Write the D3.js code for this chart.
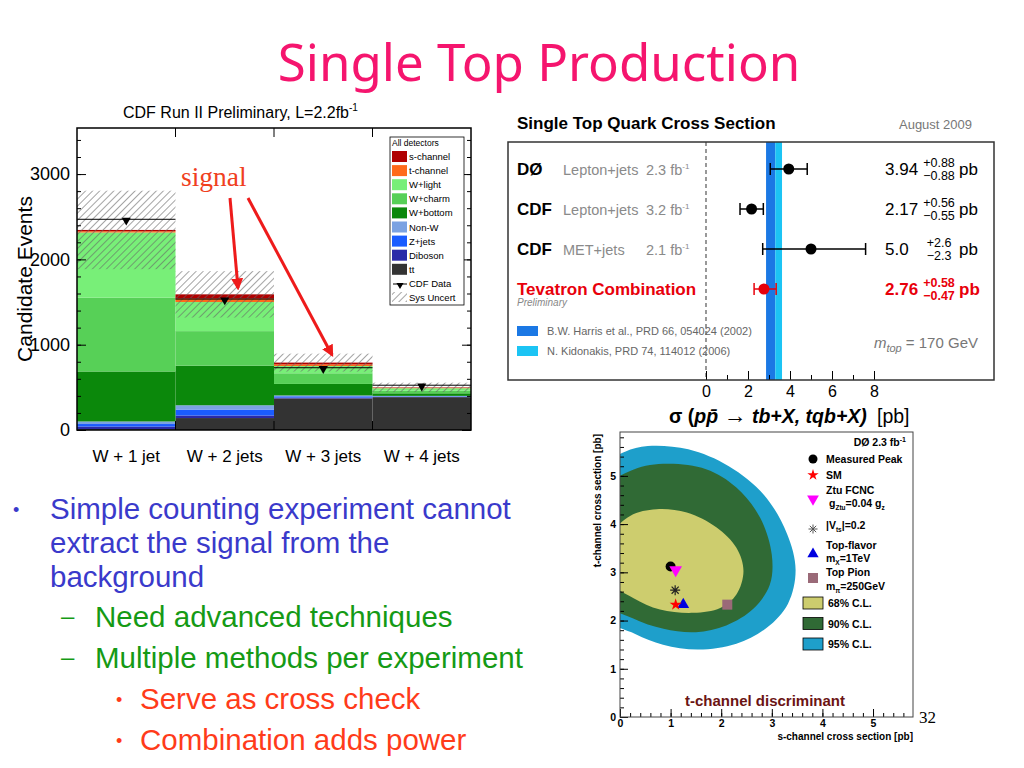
<!DOCTYPE html>
<html>
<head>
<meta charset="utf-8">
<script src="https://cdn.jsdelivr.net/npm/d3@7"></script>
<style>
  body { margin: 0; background: #fff; }
  text { font-family: "Liberation Sans", Arial, sans-serif; }
</style>
</head>
<body>
<div id="slide"></div>
<script>
// Step 1: the numbers
//=================================

// left plot: stacked event counts per jet bin
var jetBins = ["W + 1 jet", "W + 2 jets", "W + 3 jets", "W + 4 jets"];
var processNames = ["tt", "Diboson", "Z+jets", "Non-W", "W+bottom", "W+charm", "W+light", "t-channel", "s-channel"];
var ttEvents      = [10, 140, 370, 385];
var dibosonEvents = [30, 30, 10, 5];
var zjetsEvents   = [30, 70, 15, 5];
var nonWEvents    = [30, 50, 10, 5];
var wbottomEvents = [586, 464, 135, 30];
var wcharmEvents  = [865, 405, 125, 30];
var wlightEvents  = [764, 341, 85, 30];
var tchanEvents   = [15, 40, 20, 5];
var schanEvents   = [15, 50, 20, 5];
var cdfData       = [2470, 1535, 730, 525];
var sysUncert     = [460, 272, 105, 55];
var countTicks    = [0, 1000, 2000, 3000];

// upper right plot: cross section measurements
var xsecExperiment = ["DØ", "CDF", "CDF", "Tevatron Combination"];
var xsecChannel    = ["Lepton+jets", "Lepton+jets", "MET+jets", ""];
var xsecLumi       = ["2.3", "3.2", "2.1", ""];
var xsecCentral    = [3.94, 2.17, 5.0, 2.76];
var xsecErrUp      = [0.88, 0.56, 2.6, 0.58];
var xsecErrDown    = [0.88, 0.55, 2.3, 0.47];
var xsecText       = ["3.94", "2.17", "5.0", "2.76"];
var xsecUpText     = ["+0.88", "+0.56", "+2.6", "+0.58"];
var xsecDownText   = ["\u22120.88", "\u22120.55", "\u22122.3", "\u22120.47"];
var harrisBand     = [2.86, 3.3];
var kidonakisBand  = [3.3, 3.62];
var xsecTicks      = [0, 2, 4, 6, 8];

// lower right plot: confidence contours in (s-channel, t-channel) plane
var cl95 = [[-0.3, 5.2], [0.1, 5.5], [0.55, 5.62], [1.35, 5.55], [2.15, 5.2], [2.85, 4.6], [3.3, 3.8],
            [3.47, 3.05], [3.32, 2.35], [2.9, 1.85], [2.3, 1.52], [1.55, 1.4], [0.85, 1.5], [0.3, 1.72], [-0.3, 2.1]];
var cl90 = [[-0.3, 4.7], [0.2, 5.1], [0.85, 5.25], [1.7, 5.14], [2.3, 4.76], [2.77, 4.13], [3.0, 3.36],
            [2.96, 2.74], [2.64, 2.25], [2.1, 1.9], [1.5, 1.76], [0.86, 1.83], [0.25, 2.05], [-0.3, 2.4]];
var cl68 = [[-0.3, 3.6], [0.2, 4.17], [0.72, 4.31], [1.32, 4.24], [1.91, 3.93], [2.3, 3.51], [2.44, 3.03],
            [2.3, 2.54], [1.98, 2.26], [1.45, 2.16], [0.79, 2.23], [0.26, 2.47], [-0.3, 2.9]];
var measuredPeak = [1.0, 3.12];
var smPoint      = [1.1, 2.33];
var ztuPoint     = [1.1, 3.05];
var vtsPoint     = [1.09, 2.63];
var flavorPoint  = [1.25, 2.33];
var pionPoint    = [2.12, 2.33];
var sTicks = [0, 1, 2, 3, 4, 5];
var tTicks = [0, 1, 2, 3, 4, 5];

// bullet text
var bulletText  = ["Simple counting experiment cannot", "extract the signal from the", "background",
                   "Need advanced techniques", "Multiple methods per experiment",
                   "Serve as cross check", "Combination adds power"];
var bulletLevel = [1, 1, 1, 2, 2, 3, 3];
var bulletFirst = [true, false, false, true, true, true, true];


// Step 2: the svg
//=================================
var svg = d3.select("#slide").append("svg")
  .attr("width", 1024)
  .attr("height", 768);

svg.append("rect").attr("width", 1024).attr("height", 768).attr("fill", "#fff");

var defs = svg.append("defs");
var hatch = defs.append("pattern")
  .attr("id", "hatch")
  .attr("patternUnits", "userSpaceOnUse")
  .attr("width", 5).attr("height", 5)
  .attr("patternTransform", "rotate(45)");
hatch.append("line")
  .attr("x1", 0).attr("y1", 0).attr("x2", 0).attr("y2", 5)
  .attr("stroke", "#666").attr("stroke-width", 1.2);

defs.append("marker")
  .attr("id", "arrowhead")
  .attr("viewBox", "0 0 10 10")
  .attr("refX", 8).attr("refY", 5)
  .attr("markerWidth", 4).attr("markerHeight", 4)
  .attr("orient", "auto")
  .append("path").attr("d", "M0,0L10,5L0,10z").attr("fill", "#ee1b1b");

// slide title
svg.append("text")
  .attr("x", 539).attr("y", 81)
  .attr("text-anchor", "middle")
  .attr("fill", "#f5156e")
  .style("font-family", "'Noto Sans', sans-serif")
  .style("font-size", "51px")
  .text("Single Top Production");


// Step 3: left plot, stacked histogram
//=================================
var p1 = {left: 77, right: 471, top: 128, bottom: 430};
var processColors = ["#333333", "#2a2aa8", "#1a5cff", "#7ba2e2", "#0b880b", "#57d057", "#78ef78", "#ff6a1a", "#b00000"];

var x1 = d3.scaleBand().domain(jetBins).range([p1.left, p1.right]);
var y1 = d3.scaleLinear().domain([0, 3540]).range([p1.bottom, p1.top]);

var binRows = jetBins.map(function(b, i) {
  return {
    bin: b, "tt": ttEvents[i], "Diboson": dibosonEvents[i], "Z+jets": zjetsEvents[i],
    "Non-W": nonWEvents[i], "W+bottom": wbottomEvents[i], "W+charm": wcharmEvents[i],
    "W+light": wlightEvents[i], "t-channel": tchanEvents[i], "s-channel": schanEvents[i]
  };
});
var stacked = d3.stack().keys(processNames)(binRows);

var g1 = svg.append("g");

g1.selectAll("g.layer").data(stacked).join("g")
  .attr("class", "layer")
  .attr("fill", (d, i) => processColors[i])
  .selectAll("rect").data(d => d).join("rect")
    .attr("x", d => x1(d.data.bin))
    .attr("width", x1.bandwidth())
    .attr("y", d => y1(d[1]))
    .attr("height", d => y1(d[0]) - y1(d[1]));

var totals = binRows.map(r => d3.sum(processNames, k => r[k]));

// sys uncertainty band
g1.selectAll("rect.unc").data(jetBins).join("rect")
  .attr("class", "unc")
  .attr("x", d => x1(d))
  .attr("width", x1.bandwidth())
  .attr("y", (d, i) => y1(totals[i] + sysUncert[i]))
  .attr("height", (d, i) => y1(totals[i] - sysUncert[i]) - y1(totals[i] + sysUncert[i]))
  .attr("fill", "url(#hatch)");

// data: line across the bin plus down triangle
g1.selectAll("line.data").data(jetBins).join("line")
  .attr("x1", d => x1(d)).attr("x2", d => x1(d) + x1.bandwidth())
  .attr("y1", (d, i) => y1(cdfData[i])).attr("y2", (d, i) => y1(cdfData[i]))
  .attr("stroke", "#000").attr("stroke-width", 1);
g1.selectAll("path.data").data(jetBins).join("path")
  .attr("d", d3.symbol(d3.symbolTriangle, 36))
  .attr("transform", (d, i) => `translate(${x1(d) + x1.bandwidth() / 2}, ${y1(cdfData[i]) + 1}) rotate(180)`)
  .attr("fill", "#000");

// axes with inward ticks
var minorCounts = d3.range(0, 3600, 200);
g1.append("g").attr("transform", `translate(${p1.left},0)`)
  .call(d3.axisLeft(y1).tickValues(minorCounts).tickSize(-4).tickFormat(""))
  .call(g => g.select(".domain").remove());
g1.append("g").attr("transform", `translate(${p1.left},0)`)
  .call(d3.axisLeft(y1).tickValues(countTicks).tickSize(-9).tickPadding(7).tickFormat(d3.format("d")))
  .call(g => g.select(".domain").remove())
  .selectAll("text").style("font-size", "18px").attr("fill", "#000");
g1.append("g").attr("transform", `translate(${p1.right},0)`)
  .call(d3.axisRight(y1).tickValues(minorCounts).tickSize(-4).tickFormat(""))
  .call(g => g.select(".domain").remove());
g1.append("g").attr("transform", `translate(${p1.right},0)`)
  .call(d3.axisRight(y1).tickValues(countTicks).tickSize(-9).tickFormat(""))
  .call(g => g.select(".domain").remove());

var binEdges = jetBins.slice(1).map(b => x1(b));
g1.selectAll("line.topTick").data(binEdges).join("line")
  .attr("x1", d => d).attr("x2", d => d)
  .attr("y1", p1.top).attr("y2", p1.top + 9)
  .attr("stroke", "#000");
g1.selectAll("line.botTick").data(binEdges).join("line")
  .attr("x1", d => d).attr("x2", d => d)
  .attr("y1", p1.bottom).attr("y2", p1.bottom - 9)
  .attr("stroke", "#000");

g1.append("rect")
  .attr("x", p1.left).attr("y", p1.top)
  .attr("width", p1.right - p1.left).attr("height", p1.bottom - p1.top)
  .attr("fill", "none").attr("stroke", "#000").attr("stroke-width", 1.5);

// category labels
g1.selectAll("text.cat").data(jetBins).join("text")
  .attr("x", d => x1(d) + x1.bandwidth() / 2)
  .attr("y", 462)
  .attr("text-anchor", "middle")
  .style("font-size", "17px")
  .text(d => d);

// axis label and title
g1.append("text")
  .attr("transform", "translate(32, 279) rotate(-90)")
  .attr("text-anchor", "middle")
  .style("font-size", "21px")
  .text("Candidate Events");

var t1 = g1.append("text")
  .attr("x", 123).attr("y", 118)
  .style("font-size", "16px");
t1.append("tspan").text("CDF Run II Preliminary, L=2.2fb");
t1.append("tspan").attr("dy", -7).style("font-size", "10px").text("-1");

// legend
var leg1 = g1.append("g");
leg1.append("rect")
  .attr("x", 390).attr("y", 137).attr("width", 74).attr("height", 168)
  .attr("fill", "#fff").attr("stroke", "#000").attr("stroke-width", 0.8);
leg1.append("text").attr("x", 392).attr("y", 146).style("font-size", "8.5px").text("All detectors");

var legendOrder = processNames.slice().reverse();
var legendColors = processColors.slice().reverse();
leg1.selectAll("rect.sw").data(legendOrder).join("rect")
  .attr("x", 392).attr("y", (d, i) => 151 + i * 14.1)
  .attr("width", 15).attr("height", 11)
  .attr("fill", (d, i) => legendColors[i]);
leg1.selectAll("text.lab").data(legendOrder).join("text")
  .attr("x", 409).attr("y", (d, i) => 160 + i * 14.1)
  .style("font-size", "9.5px")
  .text(d => d);
leg1.append("line").attr("x1", 393).attr("x2", 407).attr("y1", 284).attr("y2", 284).attr("stroke", "#000");
leg1.append("path").attr("d", d3.symbol(d3.symbolTriangle, 22))
  .attr("transform", "translate(400,285) rotate(180)");
leg1.append("text").attr("x", 409).attr("y", 287).style("font-size", "9.5px").text("CDF Data");
leg1.append("rect").attr("x", 392).attr("y", 292).attr("width", 15).attr("height", 10).attr("fill", "url(#hatch)");
leg1.append("text").attr("x", 409).attr("y", 301).style("font-size", "9.5px").text("Sys Uncert");

// "signal" annotation
g1.append("text")
  .attr("x", 181).attr("y", 186)
  .attr("fill", "#f0401e")
  .style("font-family", "'Liberation Serif', serif")
  .style("font-size", "27.5px")
  .text("signal");
g1.append("line")
  .attr("x1", 230).attr("y1", 198).attr("x2", 238).attr("y2", 288)
  .attr("stroke", "#ee1b1b").attr("stroke-width", 3).attr("marker-end", "url(#arrowhead)");
g1.append("line")
  .attr("x1", 248).attr("y1", 198).attr("x2", 332).attr("y2", 355)
  .attr("stroke", "#ee1b1b").attr("stroke-width", 3).attr("marker-end", "url(#arrowhead)");


// Step 4: upper right plot, cross section summary
//=================================
var p2 = {left: 508, right: 994, top: 142, bottom: 380};
var x2 = d3.scaleLinear().domain([0, 8]).range([706, 874]);
var row2 = d3.scaleBand().domain(d3.range(xsecCentral.length)).range([149, 309]);
var g2 = svg.append("g");

g2.append("text").attr("x", 517).attr("y", 129)
  .style("font-size", "17px").style("font-weight", "bold")
  .text("Single Top Quark Cross Section");
g2.append("text").attr("x", 972).attr("y", 129).attr("text-anchor", "end")
  .attr("fill", "#777").style("font-size", "13px")
  .text("August 2009");

g2.append("rect")
  .attr("x", x2(harrisBand[0])).attr("width", x2(harrisBand[1]) - x2(harrisBand[0]))
  .attr("y", p2.top).attr("height", p2.bottom - p2.top)
  .attr("fill", "#1b78e4");
g2.append("rect")
  .attr("x", x2(kidonakisBand[0])).attr("width", x2(kidonakisBand[1]) - x2(kidonakisBand[0]))
  .attr("y", p2.top).attr("height", p2.bottom - p2.top)
  .attr("fill", "#1cc4f4");

g2.append("line")
  .attr("x1", x2(0)).attr("x2", x2(0)).attr("y1", p2.top).attr("y2", p2.bottom)
  .attr("stroke", "#555").attr("stroke-width", 1.2).attr("stroke-dasharray", "4,3");

var rowColor = (i) => i === 3 ? "#e8000b" : "#000";
var cy = (i) => row2(i) + row2.bandwidth() / 2;

g2.selectAll("line.err").data(xsecCentral).join("line")
  .attr("x1", (d, i) => x2(d - xsecErrDown[i])).attr("x2", (d, i) => x2(d + xsecErrUp[i]))
  .attr("y1", (d, i) => cy(i)).attr("y2", (d, i) => cy(i))
  .attr("stroke", (d, i) => rowColor(i)).attr("stroke-width", 1.5);
g2.selectAll("line.capL").data(xsecCentral).join("line")
  .attr("x1", (d, i) => x2(d - xsecErrDown[i])).attr("x2", (d, i) => x2(d - xsecErrDown[i]))
  .attr("y1", (d, i) => cy(i) - 6).attr("y2", (d, i) => cy(i) + 6)
  .attr("stroke", (d, i) => rowColor(i)).attr("stroke-width", 1.5);
g2.selectAll("line.capR").data(xsecCentral).join("line")
  .attr("x1", (d, i) => x2(d + xsecErrUp[i])).attr("x2", (d, i) => x2(d + xsecErrUp[i]))
  .attr("y1", (d, i) => cy(i) - 6).attr("y2", (d, i) => cy(i) + 6)
  .attr("stroke", (d, i) => rowColor(i)).attr("stroke-width", 1.5);
g2.selectAll("circle.pt").data(xsecCentral).join("circle")
  .attr("cx", d => x2(d)).attr("cy", (d, i) => cy(i)).attr("r", 5.5)
  .attr("fill", (d, i) => rowColor(i));

// row labels
g2.selectAll("text.exp").data(xsecExperiment).join("text")
  .attr("x", 517).attr("y", (d, i) => cy(i) + 6)
  .attr("fill", (d, i) => rowColor(i))
  .style("font-size", "17px").style("font-weight", "bold")
  .text(d => d);
g2.selectAll("text.chan").data(xsecChannel).join("text")
  .attr("x", 563).attr("y", (d, i) => cy(i) + 6)
  .attr("fill", "#8a8a8a").style("font-size", "14.5px")
  .text(d => d);
var lumiText = g2.selectAll("text.lumi").data(xsecLumi.filter(d => d !== "")).join("text")
  .attr("x", 646).attr("y", (d, i) => cy(i) + 6)
  .attr("fill", "#8a8a8a").style("font-size", "14.5px");
lumiText.append("tspan").text(d => d + " fb");
lumiText.append("tspan").attr("dy", -6).style("font-size", "8px").text("-1");
g2.append("text").attr("x", 517).attr("y", 306)
  .attr("fill", "#888").style("font-size", "10px").style("font-style", "italic")
  .text("Preliminary");

// values on the right
g2.selectAll("text.val").data(xsecText).join("text")
  .attr("x", 885).attr("y", (d, i) => cy(i) + 6)
  .attr("fill", (d, i) => rowColor(i))
  .style("font-size", "17px").style("font-weight", (d, i) => i === 3 ? "bold" : "normal")
  .text(d => d);
g2.selectAll("text.up").data(xsecUpText).join("text")
  .attr("x", 939).attr("y", (d, i) => cy(i) - 2).attr("text-anchor", "middle")
  .attr("fill", (d, i) => rowColor(i))
  .style("font-size", "12.5px").style("font-weight", (d, i) => i === 3 ? "bold" : "normal")
  .text(d => d);
g2.selectAll("text.down").data(xsecDownText).join("text")
  .attr("x", 939).attr("y", (d, i) => cy(i) + 11).attr("text-anchor", "middle")
  .attr("fill", (d, i) => rowColor(i))
  .style("font-size", "12.5px").style("font-weight", (d, i) => i === 3 ? "bold" : "normal")
  .text(d => d);
g2.selectAll("text.pb").data(xsecText).join("text")
  .attr("x", 959).attr("y", (d, i) => cy(i) + 6)
  .attr("fill", (d, i) => rowColor(i))
  .style("font-size", "17px").style("font-weight", (d, i) => i === 3 ? "bold" : "normal")
  .text("pb");

// band legend
g2.append("rect").attr("x", 517).attr("y", 326).attr("width", 21).attr("height", 10).attr("fill", "#1b78e4");
g2.append("rect").attr("x", 517).attr("y", 346).attr("width", 21).attr("height", 10).attr("fill", "#1cc4f4");
g2.append("text").attr("x", 547).attr("y", 335).attr("fill", "#666").style("font-size", "11px")
  .text("B.W. Harris et al., PRD 66, 054024 (2002)");
g2.append("text").attr("x", 547).attr("y", 355).attr("fill", "#666").style("font-size", "11px")
  .text("N. Kidonakis, PRD 74, 114012 (2006)");

var mt = g2.append("text").attr("x", 978).attr("y", 348).attr("text-anchor", "end")
  .attr("fill", "#777").style("font-size", "15px");
mt.append("tspan").style("font-style", "italic").text("m");
mt.append("tspan").attr("dy", 4).style("font-style", "italic").style("font-size", "11px").text("top");
mt.append("tspan").attr("dy", -4).text(" = 170 GeV");

// axis
g2.append("g").attr("transform", `translate(0,${p2.bottom})`)
  .call(d3.axisBottom(x2).tickValues(d3.range(0, 9, 1)).tickSize(-5).tickFormat(""))
  .call(g => g.select(".domain").remove());
g2.append("g").attr("transform", `translate(0,${p2.bottom})`)
  .call(d3.axisBottom(x2).tickValues(xsecTicks).tickSize(-9).tickPadding(6))
  .call(g => g.select(".domain").remove())
  .selectAll("text").style("font-size", "16px").attr("fill", "#000");

g2.append("rect")
  .attr("x", p2.left).attr("y", p2.top)
  .attr("width", p2.right - p2.left).attr("height", p2.bottom - p2.top)
  .attr("fill", "none").attr("stroke", "#333").attr("stroke-width", 1.5);

var ax2 = g2.append("text").attr("x", 669).attr("y", 423)
  .style("font-size", "19.5px").style("font-weight", "bold");
ax2.append("tspan").text("\u03c3 (");
ax2.append("tspan").style("font-style", "italic").text("p\u0070\u0304 ");
ax2.append("tspan").style("font-size", "23px").text("\u2192");
ax2.append("tspan").style("font-style", "italic").text(" tb+X, tqb+X)");
g2.append("text").attr("x", 877).attr("y", 423)
  .style("font-size", "19.5px")
  .text("[pb]");


// Step 5: lower right plot, contours
//=================================
var p3 = {left: 620, right: 913, top: 432, bottom: 717};
var x3 = d3.scaleLinear().domain([0, 5.79]).range([p3.left, p3.right]);
var y3 = d3.scaleLinear().domain([0, 5.91]).range([p3.bottom, p3.top]);
var g3 = svg.append("g");

defs.append("clipPath").attr("id", "clip3").append("rect")
  .attr("x", p3.left).attr("y", p3.top)
  .attr("width", p3.right - p3.left).attr("height", p3.bottom - p3.top);

var contour = d3.line().x(d => x3(d[0])).y(d => y3(d[1])).curve(d3.curveCatmullRomClosed);
var gc = g3.append("g").attr("clip-path", "url(#clip3)");
gc.append("path").attr("d", contour(cl95)).attr("fill", "#1e9fcb");
gc.append("path").attr("d", contour(cl90)).attr("fill", "#306a35");
gc.append("path").attr("d", contour(cl68)).attr("fill", "#cdcd6e");

function asterisk(size) {
  var r = size, d = "";
  for (var k = 0; k < 4; k++) {
    var a = k * Math.PI / 4;
    d += `M${-r * Math.cos(a)},${-r * Math.sin(a)}L${r * Math.cos(a)},${r * Math.sin(a)}`;
  }
  return d;
}

// markers
g3.append("circle").attr("cx", x3(measuredPeak[0])).attr("cy", y3(measuredPeak[1])).attr("r", 5).attr("fill", "#000");
g3.append("path").attr("d", d3.symbol(d3.symbolTriangle, 70))
  .attr("transform", `translate(${x3(ztuPoint[0])},${y3(ztuPoint[1])}) rotate(180)`).attr("fill", "#f0f");
g3.append("path").attr("d", asterisk(5))
  .attr("transform", `translate(${x3(vtsPoint[0])},${y3(vtsPoint[1])})`).attr("stroke", "#222").attr("stroke-width", 1.2);
g3.append("path").attr("d", d3.symbol(d3.symbolTriangle, 60))
  .attr("transform", `translate(${x3(flavorPoint[0])},${y3(flavorPoint[1])})`).attr("fill", "#0000e0");
g3.append("path").attr("d", d3.symbol(d3.symbolStar, 45))
  .attr("transform", `translate(${x3(smPoint[0])},${y3(smPoint[1])})`).attr("fill", "#f00");
g3.append("rect").attr("x", x3(pionPoint[0]) - 5).attr("y", y3(pionPoint[1]) - 5)
  .attr("width", 10).attr("height", 10).attr("fill", "#9a6a78");

// axes
var tickFont = g => g.selectAll("text").style("font-size", "10.5px").style("font-weight", "bold").attr("fill", "#000");
g3.append("g").attr("transform", `translate(0,${p3.bottom})`)
  .call(d3.axisBottom(x3).tickValues(d3.range(0, 5.79, 0.2)).tickSize(-4).tickFormat(""))
  .call(g => g.select(".domain").remove());
g3.append("g").attr("transform", `translate(0,${p3.bottom})`)
  .call(d3.axisBottom(x3).tickValues(sTicks).tickSize(-8).tickPadding(3).tickFormat(d3.format("d")))
  .call(g => g.select(".domain").remove())
  .call(tickFont);
g3.append("g").attr("transform", `translate(${p3.left},0)`)
  .call(d3.axisLeft(y3).tickValues(d3.range(0, 5.91, 0.2)).tickSize(-4).tickFormat(""))
  .call(g => g.select(".domain").remove());
g3.append("g").attr("transform", `translate(${p3.left},0)`)
  .call(d3.axisLeft(y3).tickValues(tTicks).tickSize(-8).tickPadding(4).tickFormat(d3.format("d")))
  .call(g => g.select(".domain").remove())
  .call(tickFont);

g3.append("rect")
  .attr("x", p3.left).attr("y", p3.top)
  .attr("width", p3.right - p3.left).attr("height", p3.bottom - p3.top)
  .attr("fill", "none").attr("stroke", "#444").attr("stroke-width", 1);

g3.append("text").attr("x", p3.right).attr("y", 740).attr("text-anchor", "end")
  .style("font-size", "10px").style("font-weight", "bold")
  .text("s-channel cross section [pb]");
g3.append("text").attr("transform", `translate(601,${p3.top + 2}) rotate(-90)`).attr("text-anchor", "end")
  .style("font-size", "10px").style("font-weight", "bold")
  .text("t-channel cross section [pb]");

g3.append("text").attr("x", 685).attr("y", 706)
  .attr("fill", "#6b1414").style("font-size", "15px").style("font-weight", "bold")
  .text("t-channel discriminant");

// legend
var lg = g3.append("g").style("font-size", "10.5px").style("font-weight", "bold");
var d0 = lg.append("text").attr("x", 906).attr("y", 446).attr("text-anchor", "end");
d0.append("tspan").text("DØ 2.3 fb");
d0.append("tspan").attr("dy", -4).style("font-size", "7px").text("-1");

lg.append("circle").attr("cx", 813).attr("cy", 459).attr("r", 4.5).attr("fill", "#000");
lg.append("text").attr("x", 826).attr("y", 463).text("Measured Peak");
lg.append("path").attr("d", d3.symbol(d3.symbolStar, 40)).attr("transform", "translate(813,475)").attr("fill", "#f00");
lg.append("text").attr("x", 826).attr("y", 479).text("SM");
lg.append("text").attr("x", 826).attr("y", 494).text("Ztu FCNC");
lg.append("path").attr("d", d3.symbol(d3.symbolTriangle, 60)).attr("transform", "translate(813,499) rotate(180)").attr("fill", "#f0f");
var gz = lg.append("text").attr("x", 829).attr("y", 507);
gz.append("tspan").text("g");
gz.append("tspan").attr("dy", 3).style("font-size", "6.5px").text("Ztu");
gz.append("tspan").attr("dy", -3).text("=0.04 g");
gz.append("tspan").attr("dy", 3).style("font-size", "6.5px").text("z");
lg.append("path").attr("d", asterisk(4.5)).attr("transform", "translate(813,529)").attr("stroke", "#555").attr("stroke-width", 1);
var vt = lg.append("text").attr("x", 826).attr("y", 529);
vt.append("tspan").text("|V");
vt.append("tspan").attr("dy", 3).style("font-size", "6.5px").text("ts");
vt.append("tspan").attr("dy", -3).text("|=0.2");
lg.append("text").attr("x", 826).attr("y", 549).text("Top-flavor");
lg.append("path").attr("d", d3.symbol(d3.symbolTriangle, 55)).attr("transform", "translate(813,554)").attr("fill", "#0000e0");
var mx = lg.append("text").attr("x", 826).attr("y", 562);
mx.append("tspan").text("m");
mx.append("tspan").attr("dy", 3).style("font-size", "6.5px").text("X");
mx.append("tspan").attr("dy", -3).text("=1TeV");
lg.append("text").attr("x", 826).attr("y", 576).text("Top Pion");
lg.append("rect").attr("x", 808).attr("y", 573).attr("width", 10).attr("height", 10).attr("fill", "#9a6a78");
var mp = lg.append("text").attr("x", 826).attr("y", 590);
mp.append("tspan").text("m");
mp.append("tspan").attr("dy", 3).style("font-size", "6.5px").text("\u03c0");
mp.append("tspan").attr("dy", -3).text("=250GeV");

var clLabels = ["68% C.L.", "90% C.L.", "95% C.L."];
var clColors = ["#cdcd6e", "#306a35", "#1e9fcb"];
lg.selectAll("rect.cl").data(clLabels).join("rect")
  .attr("x", 803).attr("y", (d, i) => 597 + i * 20.5)
  .attr("width", 20).attr("height", 12)
  .attr("fill", (d, i) => clColors[i]).attr("stroke", "#000").attr("stroke-width", 0.8);
lg.selectAll("text.cl").data(clLabels).join("text")
  .attr("x", 828).attr("y", (d, i) => 607 + i * 20.5)
  .text(d => d);

// page number
svg.append("text").attr("x", 919).attr("y", 723)
  .style("font-family", "'Liberation Serif', serif").style("font-size", "17px")
  .text("32");


// Step 6: bullets
//=================================
var bulletColors = {1: "#3a3acb", 2: "#159a15", 3: "#ff3b1a"};
var bulletTextX  = {1: 50, 2: 95, 3: 140};
var bulletMarkX  = {1: 13, 2: 61, 3: 116};
var bulletMark   = {1: "\u2022", 2: "\u2013", 3: "\u2022"};
var bulletY      = [519, 553, 587, 627, 668, 709, 750];

var gb = svg.append("g").style("font-family", "'Noto Sans', sans-serif").style("font-size", "29.5px");
gb.selectAll("text.b").data(bulletText).join("text")
  .attr("x", (d, i) => bulletTextX[bulletLevel[i]])
  .attr("y", (d, i) => bulletY[i])
  .attr("fill", (d, i) => bulletColors[bulletLevel[i]])
  .text(d => d);

var markIdx = d3.range(bulletText.length).filter(i => bulletFirst[i]);
gb.selectAll("text.m").data(markIdx).join("text")
  .attr("x", i => bulletMarkX[bulletLevel[i]])
  .attr("y", i => bulletY[i] - 3)
  .attr("fill", i => bulletColors[bulletLevel[i]])
  .style("font-size", i => bulletLevel[i] === 2 ? "24px" : "18px")
  .text(i => bulletMark[bulletLevel[i]]);
</script>
</body>
</html>
